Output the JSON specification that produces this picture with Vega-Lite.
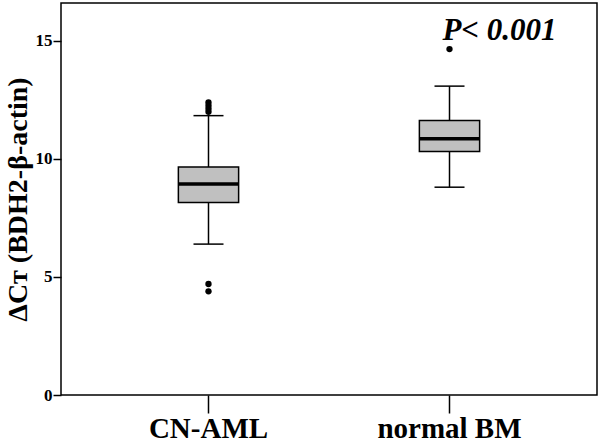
{
  "$schema": "https://vega.github.io/schema/vega-lite/v6.json",
  "autosize": {"type": "none"},
  "padding": {"left": 61, "top": 3, "right": 3, "bottom": 52},
  "width": 536,
  "height": 392,
  "background": "white",
  "view": {"stroke": "black", "strokeWidth": 1.5, "fill": "white"},
  "config": {
    "axis": {"grid": false, "domain": false, "tickColor": "black", "tickWidth": 1.5, "labelColor": "black", "titleColor": "black", "labelFontWeight": "bold", "titleFontWeight": "bold", "labelFont": "Liberation Serif", "titleFont": "Liberation Serif"}
  },
  "datasets": {
    "boxes": [
      {"group": "CN-AML", "lower": 6.39, "q1": 8.15, "median": 8.94, "q3": 9.65, "upper": 11.83},
      {"group": "normal BM", "lower": 8.8, "q1": 10.31, "median": 10.85, "q3": 11.62, "upper": 13.08}
    ],
    "outliers": [
      {"group": "CN-AML", "value": 12.39},
      {"group": "CN-AML", "value": 12.25},
      {"group": "CN-AML", "value": 12.12},
      {"group": "CN-AML", "value": 11.99},
      {"group": "CN-AML", "value": 4.7},
      {"group": "CN-AML", "value": 4.39},
      {"group": "normal BM", "value": 14.65}
    ],
    "annot": [
      {"group": "normal BM", "value": 15.05, "label": "P< 0.001"}
    ]
  },
  "encoding": {
    "x": {
      "field": "group", "type": "nominal", "sort": ["CN-AML", "normal BM"],
      "scale": {"type": "band", "paddingInner": 0, "paddingOuter": 0.112},
      "axis": {"title": null, "labelAngle": 0, "labelFontSize": 29, "tickSize": 18, "labelPadding": 1}
    }
  },
  "layer": [
    {
      "data": {"name": "boxes"},
      "mark": {"type": "rule", "color": "black", "strokeWidth": 1.5},
      "encoding": {
        "y": {
          "field": "lower", "type": "quantitative",
          "scale": {"domain": [0, 16.6], "nice": false, "zero": false},
          "axis": {"values": [0, 5, 10, 15], "title": "ΔCᴛ (BDH2-β-actin)", "titleFontSize": 28, "labelFontSize": 17, "tickSize": 8, "labelPadding": 1, "titlePadding": 3}
        },
        "y2": {"field": "upper"}
      }
    },
    {
      "data": {"name": "boxes"},
      "mark": {"type": "bar", "fill": "#c0c0c0", "stroke": "black", "strokeWidth": 1.5, "width": {"band": 0.25}},
      "encoding": {
        "y": {"field": "q1", "type": "quantitative"},
        "y2": {"field": "q3"}
      }
    },
    {
      "data": {"name": "boxes"},
      "mark": {"type": "tick", "color": "black", "orient": "horizontal", "size": 60, "thickness": 3.5, "opacity": 1},
      "encoding": {"y": {"field": "median", "type": "quantitative"}}
    },
    {
      "data": {"name": "boxes"},
      "mark": {"type": "tick", "color": "black", "orient": "horizontal", "size": 30, "thickness": 1.5, "opacity": 1},
      "encoding": {"y": {"field": "lower", "type": "quantitative"}}
    },
    {
      "data": {"name": "boxes"},
      "mark": {"type": "tick", "color": "black", "orient": "horizontal", "size": 30, "thickness": 1.5, "opacity": 1},
      "encoding": {"y": {"field": "upper", "type": "quantitative"}}
    },
    {
      "data": {"name": "outliers"},
      "mark": {"type": "circle", "color": "black", "size": 40, "opacity": 1},
      "encoding": {"y": {"field": "value", "type": "quantitative"}}
    },
    {
      "data": {"name": "annot"},
      "mark": {"type": "text", "font": "Liberation Serif", "fontWeight": "bold", "fontStyle": "italic", "fontSize": 31, "align": "right", "baseline": "alphabetic", "color": "black"},
      "encoding": {
        "x": {"field": "group", "type": "nominal", "bandPosition": 0.944},
        "y": {"field": "value", "type": "quantitative"},
        "text": {"field": "label"}
      }
    }
  ]
}
